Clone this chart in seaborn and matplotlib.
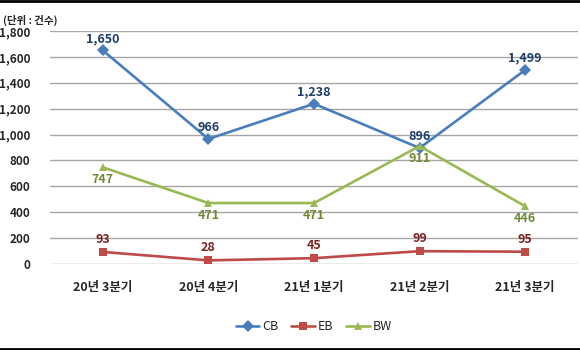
import matplotlib
matplotlib.use("Agg")
import matplotlib.pyplot as plt
import seaborn as sns
import pandas as pd

quarters = ["20년 3분기", "20년 4분기", "21년 1분기", "21년 2분기", "21년 3분기"]
cb = [1650, 966, 1238, 896, 1499]
eb = [93, 28, 45, 99, 95]
bw = [747, 471, 471, 911, 446]
series_names = ["CB", "EB", "BW"]
yticks = [0, 200, 400, 600, 800, 1000, 1200, 1400, 1600, 1800]

sns.set_style("white")
plt.rcParams["font.family"] = ["Noto Sans CJK KR", "DejaVu Sans"]

rows = []
for name, vals in zip(series_names, [cb, eb, bw]):
    for i, (q, v) in enumerate(zip(quarters, vals)):
        rows.append({"분기": i, "label": q, "구분": name, "건수": v})
df = pd.DataFrame(rows)

line_colors = {"CB": "#4A7EBB", "EB": "#BE4B48", "BW": "#98B954"}
text_colors = {"CB": "#1F3D6B", "EB": "#7A2422", "BW": "#6F8A35"}
markers = {"CB": "D", "EB": "s", "BW": "^"}
label_offset = {"CB": 8.5, "EB": 9.0, "BW": -9.0}

fig = plt.figure(figsize=(5.8, 3.5), dpi=100)
ax = fig.add_axes([50 / 580, 1 - 264 / 350, 528 / 580, 233 / 350])

sns.lineplot(data=df, x="분기", y="건수", hue="구분", style="구분",
             palette=line_colors, markers=markers, dashes=False,
             markersize=6, linewidth=1.9, markeredgewidth=0,
             ax=ax, legend=True)

for name in series_names:
    sub = df[df["구분"] == name]
    for _, r in sub.iterrows():
        ax.annotate(f"{r['건수']:,}", (r["분기"], r["건수"]),
                    xytext=(0, label_offset[name]), textcoords="offset points",
                    ha="center", va="center",
                    fontsize=9, fontweight="bold", color=text_colors[name])

ax.set_xlim(-0.5, len(quarters) - 0.5)
ax.set_ylim(0, 1800)
ax.set_yticks(yticks)
ax.set_yticklabels([f"{v:,}" for v in yticks], fontsize=8.5, fontweight="bold")
ax.set_xticks(range(len(quarters)))
ax.set_xticklabels(quarters, fontsize=9, fontweight="bold")
ax.tick_params(axis="both", length=0, pad=12)
ax.tick_params(axis="y", pad=14)
ax.yaxis.grid(True, color="#A6A6A6", linewidth=1)
ax.set_axisbelow(True)
for s in ax.spines.values():
    s.set_visible(False)
ax.set_xlabel("")
ax.set_ylabel("")

handles, labels = ax.get_legend_handles_labels()
ax.legend(handles, labels, loc="center", bbox_to_anchor=(0.5, -0.27),
          ncol=3, frameon=False, fontsize=9, handlelength=1.9,
          columnspacing=1.0, handletextpad=0.25)

fig.text(3 / 580, 1 - 20 / 350, "(단위 : 건수)", fontsize=7.5, fontweight="bold",
         va="center", ha="left")

# thin frame lines at the top and bottom edges
fig.add_artist(plt.Line2D([0, 1], [0.998, 0.998], color="black", linewidth=2,
                          transform=fig.transFigure))
fig.add_artist(plt.Line2D([0, 1], [0.004, 0.004], color="black", linewidth=2,
                          transform=fig.transFigure))

fig.savefig("out.png", dpi=100)
